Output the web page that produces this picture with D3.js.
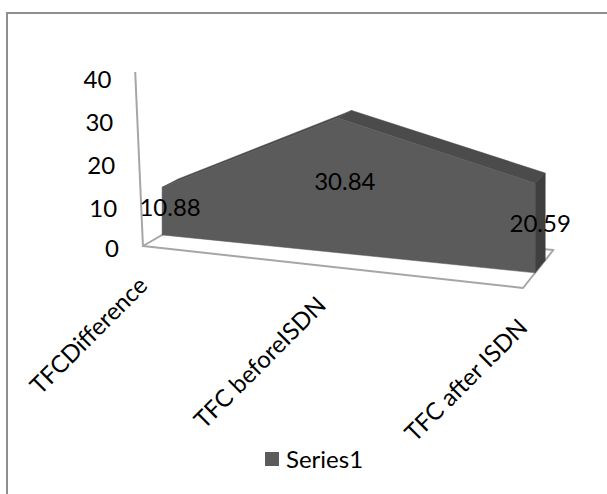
<!DOCTYPE html>
<html>
<head>
<meta charset="utf-8">
<script src="https://cdn.jsdelivr.net/npm/d3@7/dist/d3.min.js"></script>
<style>
  html, body { margin: 0; padding: 0; background: #ffffff; }
  svg { display: block; }
  text { font-family: Lato, "Open Sans", sans-serif; fill: #000; }
</style>
</head>
<body>
<svg id="chart" width="607" height="494"></svg>
<script>
// Chart data
const categories = ["TFCDifference", "TFC beforeISDN", "TFC after ISDN"];
const values = [10.88, 30.84, 20.59];
const valueTicks = [0, 10, 20, 30, 40];
const seriesName = "Series1";

const W = 607, H = 494;
const svg = d3.select("#chart");
const FONT = 24;

// --- 3D projection of the plot box -------------------------------------
// t: position along the category axis (0..1), v: value, z: depth (0 = floor front)
const tScale = d3.scalePoint().domain(categories).range([0, 1]);
const hScale = d3.scaleLinear().domain([0, 40]).range([0, 179.6]);   // height on front plane
const frontLeft = [143, 246], frontRight = [523, 288];
const vanish = [913, -200];
const persp = 0.885;
const depth = { areaFront: 0.031, areaBack: 0.057, floorBack: 0.078 };

function baseAt(t) {
  const f = persp * t / ((1 - t) + persp * t);
  return [frontLeft[0] + f * (frontRight[0] - frontLeft[0]),
          frontLeft[1] + f * (frontRight[1] - frontLeft[1])];
}
function project(t, v, z) {
  const b = baseAt(t);
  const q = [b[0], b[1] - hScale(v)];
  const g = z * (0.8 + 0.2 * t);
  return [q[0] + g * (vanish[0] - q[0]), q[1] + g * (vanish[1] - q[1])];
}
const poly = d3.line().curve(d3.curveLinearClosed);

// Chart border
svg.append("path")
  .attr("d", `M7,${H} V13 H${W}`)
  .attr("fill", "none").attr("stroke", "#8e8e8e").attr("stroke-width", 2);

// Floor
const floorPts = [project(0, 0, 0), project(1, 0, 0), project(1, 0, depth.floorBack), project(0, 0, depth.floorBack)];
svg.append("path")
  .attr("d", poly(floorPts))
  .attr("fill", "#ffffff").attr("stroke", "#a6a6a6").attr("stroke-width", 2)
  .attr("stroke-linejoin", "round");

// Value axis
const axisY = d3.scaleLinear().domain([0, 40]).range([247, 75]);
const axisX = d3.scaleLinear().domain([0, 40]).range([143, 135.4]);
svg.append("line")
  .attr("x1", axisX(0)).attr("y1", axisY(0))
  .attr("x2", axisX(40) - 0.2).attr("y2", axisY(40) - 3)
  .attr("stroke", "#a6a6a6").attr("stroke-width", 2);

svg.append("g").selectAll("text").data(valueTicks).join("text")
  .attr("x", d => axisX(d) - 24)
  .attr("y", d => axisY(d) + (d === 0 ? 0 : 3))
  .attr("text-anchor", "end")
  .attr("dominant-baseline", "central")
  .style("font-size", FONT + "px")
  .text(d => d);

// Area series
const pts = categories.map((c, i) => ({ t: tScale(c), v: values[i] }));
const fTop = pts.map(p => project(p.t, p.v, depth.areaFront));
const bTop = pts.map(p => project(p.t, p.v, depth.areaBack));
const fBot = pts.map(p => project(p.t, 0, depth.areaFront));
const bBot = pts.map(p => project(p.t, 0, depth.areaBack));
const n = pts.length;

const area = svg.append("g");
// top faces
for (let i = 0; i < n - 1; i++) {
  area.append("path")
    .attr("d", poly([fTop[i], fTop[i + 1], bTop[i + 1], bTop[i]]))
    .attr("fill", "#4b4b4b").attr("stroke", "#4b4b4b").attr("stroke-width", 0.5);
}
// right side face
area.append("path")
  .attr("d", poly([fTop[n - 1], bTop[n - 1], bBot[n - 1], fBot[n - 1]]))
  .attr("fill", "#3f3f3f").attr("stroke", "#3f3f3f").attr("stroke-width", 0.5);
// front face
area.append("path")
  .attr("d", poly(fTop.concat(fBot.slice().reverse())))
  .attr("fill", "#5b5b5b").attr("stroke", "#5b5b5b").attr("stroke-width", 0.5);

// Data labels
const midDepth = (depth.areaFront + depth.areaBack) / 2;
svg.append("g").selectAll("text").data(pts).join("text")
  .attr("x", p => project(p.t, p.v / 2, midDepth)[0])
  .attr("y", p => project(p.t, p.v / 2, midDepth)[1])
  .attr("text-anchor", "middle")
  .attr("dominant-baseline", "central")
  .style("font-size", FONT + "px")
  .text(p => p.v.toFixed(2));

// Category labels
svg.append("g").selectAll("text").data(categories).join("text")
  .attr("transform", c => {
    const b = project(tScale(c), 0, 0);
    return `translate(${b[0] + 6},${b[1] + 41}) rotate(-45)`;
  })
  .attr("text-anchor", "end")
  .style("font-size", FONT + "px")
  .text(c => c);

// Legend
const legend = svg.append("g").attr("transform", "translate(265,452)");
legend.append("rect").attr("width", 14).attr("height", 14).attr("fill", "#5b5b5b");
legend.append("text").attr("x", 21).attr("y", 16)
  .style("font-size", FONT + "px").text(seriesName);
</script>
</body>
</html>
